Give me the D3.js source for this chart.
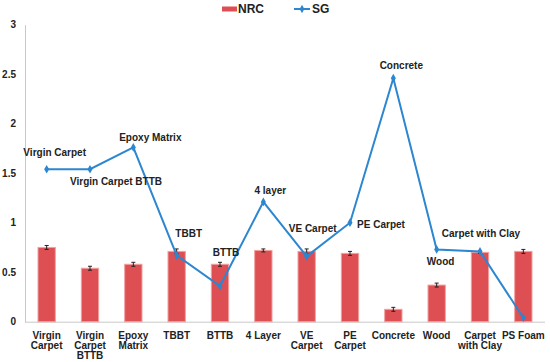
<!DOCTYPE html>
<html>
<head>
<meta charset="utf-8">
<script src="https://cdn.jsdelivr.net/npm/d3@7"></script>
<style>
  body { margin: 0; background: #fff; }
  svg text { font-family: "Liberation Sans", Arial, sans-serif; font-weight: bold; fill: #222; }
</style>
</head>
<body>
<div id="chart-area"></div>
<script>
// materials on the x axis
var categories = ["Virgin Carpet", "Virgin Carpet BTTB", "Epoxy Matrix", "TBBT", "BTTB", "4 Layer",
  "VE Carpet", "PE Carpet", "Concrete", "Wood", "Carpet with Clay", "PS Foam"];
// wrapped x labels
var axisLabels = [["Virgin", "Carpet"], ["Virgin", "Carpet", "BTTB"], ["Epoxy", "Matrix"], ["TBBT"], ["BTTB"],
  ["4 Layer"], ["VE", "Carpet"], ["PE", "Carpet"], ["Concrete"], ["Wood"], ["Carpet", "with Clay"], ["PS Foam"]];
var nrc = [0.75, 0.54, 0.58, 0.71, 0.58, 0.72, 0.71, 0.69, 0.125, 0.37, 0.70, 0.71];
var nrcErr = [0.02, 0.02, 0.02, 0.025, 0.02, 0.015, 0.025, 0.02, 0.02, 0.02, 0.01, 0.02];
var sg = [1.54, 1.54, 1.76, 0.67, 0.36, 1.21, 0.66, 1.00, 2.46, 0.73, 0.71, 0.04];
// data labels on the SG line ("" = none)
var sgLabels = ["Virgin Carpet", "Virgin Carpet BTTB", "Epoxy Matrix", "TBBT", "BTTB", "4 layer",
  "VE Carpet", "PE Carpet", "Concrete", "Wood", "Carpet with Clay", ""];
var yTicks = [0, 0.5, 1, 1.5, 2, 2.5, 3];

// where each label sits relative to its point (dx, dy)
var labelOffsets = [[8, -13], [26, 15.5], [17, -6], [12, -18.5], [6, -30], [7, -8],
  [6, -24.5], [31, 5], [8, -9.5], [4, 16], [1, -14], [0, 0]];

var width = 550, height = 362;
var margin = { left: 25, right: 5, top: 25, bottom: 40 };

var svg = d3.select("#chart-area").append("svg")
  .attr("width", width)
  .attr("height", height);

var x = d3.scaleBand()
  .domain(categories)
  .range([margin.left, width - margin.right])
  .paddingInner(0.6)
  .paddingOuter(0.3);

var y = d3.scaleLinear()
  .domain([0, 3])
  .range([height - margin.bottom - 0.3, margin.top - 0.3]);

var cx = function (d, i) { return x(categories[i]) + x.bandwidth() / 2; };

// y axis
var yAxis = svg.append("g")
  .attr("transform", "translate(" + margin.left + ",0)")
  .call(d3.axisLeft(y).tickValues(yTicks).tickSize(0).tickPadding(9).tickFormat(d3.format("")));
yAxis.select(".domain").attr("stroke", "#c8c8c8");
yAxis.selectAll("text").style("font-size", "10px");

// x axis
var xAxis = svg.append("g")
  .attr("transform", "translate(0," + y(0) + ")")
  .call(d3.axisBottom(x).tickSize(0).tickFormat(""));
xAxis.select(".domain").attr("stroke", "#c8c8c8")
  .attr("d", "M" + margin.left + ",0.5H" + (width - margin.right));

xAxis.selectAll(".tick").each(function (d, i) {
  var t = d3.select(this).select("text")
    .attr("y", 17)
    .attr("dy", null)
    .style("font-size", "10px");
  axisLabels[i].forEach(function (line, j) {
    t.append("tspan").attr("x", 0).attr("dy", j === 0 ? 0 : 10.2).text(line);
  });
});

// bars
svg.append("g").selectAll("rect")
  .data(nrc)
  .enter()
  .append("rect")
  .attr("x", (d, i) => x(categories[i]))
  .attr("y", d => y(d))
  .attr("width", x.bandwidth())
  .attr("height", d => y(0) - y(d))
  .attr("fill", "#dd4f52")
  .attr("stroke", "#f2a0a0")
  .attr("stroke-width", 1);

// error bars
var err = svg.append("g").attr("stroke", "#222").attr("stroke-width", 1);
nrc.forEach(function (d, i) {
  var c = cx(d, i);
  err.append("line").attr("x1", c).attr("x2", c).attr("y1", y(d + nrcErr[i])).attr("y2", y(d - nrcErr[i]));
  err.append("line").attr("x1", c - 2).attr("x2", c + 2).attr("y1", y(d + nrcErr[i])).attr("y2", y(d + nrcErr[i]));
  err.append("line").attr("x1", c - 2).attr("x2", c + 2).attr("y1", y(d - nrcErr[i])).attr("y2", y(d - nrcErr[i]));
});

// SG line
var line = d3.line()
  .x((d, i) => cx(d, i))
  .y(d => y(d));

svg.append("path")
  .datum(sg)
  .attr("d", line)
  .attr("fill", "none")
  .attr("stroke", "#2c86d0")
  .attr("stroke-width", 2);

svg.append("g").selectAll("path")
  .data(sg)
  .enter()
  .append("path")
  .attr("d", d3.symbol().type(d3.symbolDiamond).size(22))
  .attr("transform", (d, i) => "translate(" + cx(d, i) + "," + y(d) + ")")
  .attr("fill", "#2c86d0");

// point labels
svg.append("g").selectAll("text")
  .data(sg)
  .enter()
  .append("text")
  .attr("x", (d, i) => cx(d, i) + labelOffsets[i][0])
  .attr("y", (d, i) => y(d) + labelOffsets[i][1])
  .attr("text-anchor", "middle")
  .style("font-size", "10px")
  .text((d, i) => sgLabels[i]);

// legend
var legend = svg.append("g");
legend.append("rect").attr("x", 222).attr("y", 6.5).attr("width", 15).attr("height", 5).attr("fill", "#dd4f52");
legend.append("text").attr("x", 238).attr("y", 13).style("font-size", "12px").text("NRC");
legend.append("line").attr("x1", 294).attr("x2", 310).attr("y1", 9).attr("y2", 9)
  .attr("stroke", "#2c86d0").attr("stroke-width", 2);
legend.append("path").attr("d", d3.symbol().type(d3.symbolDiamond).size(20))
  .attr("transform", "translate(302,9)").attr("fill", "#2c86d0");
legend.append("text").attr("x", 312).attr("y", 13).style("font-size", "12px").text("SG");
</script>
</body>
</html>
